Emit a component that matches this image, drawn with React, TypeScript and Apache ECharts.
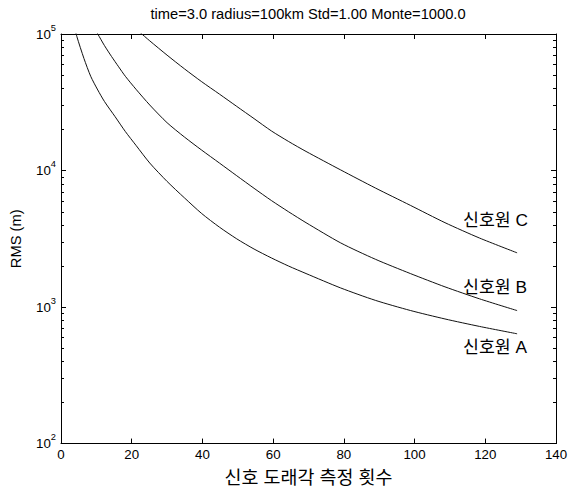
import React, { useEffect, useRef } from "react";
import * as echarts from "echarts";

const titleText = "time=3.0 radius=100km Std=1.00 Monte=1000.0";
const xAxisName = "신호 도래각 측정 횟수";
const yAxisName = "RMS (m)";
const seriesNames = ["신호원 A", "신호원 B", "신호원 C"];

const xA = [3.5, 4.5, 6.5, 8.4, 10.4, 12.3, 15.3, 18.2, 21.2, 25.1, 30, 34.9, 39.8, 44.8, 49.7, 54.6, 59.5, 64.4, 69.3, 79.1, 88.9, 98.8, 108.6, 118.4, 129];
const yA = [120000, 95500, 66100, 49000, 38900, 32000, 24800, 19300, 15300, 11350, 8320, 6310, 4840, 3850, 3160, 2660, 2290, 1995, 1760, 1380, 1120, 944, 818, 721, 637];

const xB = [9.4, 10.4, 12.3, 14.3, 16.3, 18.2, 21.2, 25.1, 30, 34.9, 39.8, 44.8, 49.7, 54.6, 59.5, 64.4, 69.3, 79.1, 88.9, 98.8, 108.6, 118.4, 129];
const yB = [110900, 100000, 82200, 68400, 57500, 49000, 39400, 30200, 22400, 17600, 14100, 11350, 9160, 7410, 6030, 4980, 4150, 2950, 2240, 1760, 1406, 1148, 942];

const xC = [21.2, 22.2, 25.1, 30, 34.9, 39.8, 44.8, 49.7, 54.6, 59.5, 64.4, 69.3, 79.1, 88.9, 98.8, 108.6, 118.4, 129];
const yC = [109000, 103500, 89100, 70000, 55600, 44700, 36300, 29500, 24000, 19500, 16300, 13800, 10100, 7450, 5560, 4150, 3200, 2495];

const labelX = [113.7, 113.7, 113.7];
const labelY = [513, 1396, 4305];

const xMin = 0;
const xMax = 140;
const xInterval = 20;
const yMin = 100;
const yMax = 100000;
const yMinorTicks = [
  200, 300, 400, 500, 600, 700, 800, 900,
  2000, 3000, 4000, 5000, 6000, 7000, 8000, 9000,
  20000, 30000, 40000, 50000, 60000, 70000, 80000, 90000,
];

const LATIN = "'Liberation Sans', Arial, sans-serif";
const MIXED = "'Liberation Sans', 'Noto Sans CJK KR', sans-serif";

function fitFontSize(text: string, family: string, targetWidth: number, fallback: number) {
  try {
    const ctx = document.createElement("canvas").getContext("2d");
    if (!ctx) return fallback;
    ctx.font = `100px ${family}`;
    const w = ctx.measureText(text).width;
    if (!w) return fallback;
    return (100 * targetWidth) / w;
  } catch (e) {
    return fallback;
  }
}

export default function App() {
  const ref = useRef<HTMLDivElement>(null);

  useEffect(() => {
    document.body.style.margin = "0";
    if (!ref.current) return;
    const chart = echarts.init(ref.current, null, { renderer: "svg" });

    const labelSize = fitFontSize("신호원 C", MIXED, 65, 16);
    const xNameSize = fitFontSize(xAxisName, MIXED, 168, 15.5);

    const xs = [xA, xB, xC];
    const ys = [yA, yB, yC];

    const lineSeries = seriesNames.map((name, i) => ({
      type: "line",
      name,
      data: xs[i].map((x, j) => [x, ys[i][j]]),
      showSymbol: false,
      symbol: "none",
      smooth: 0.25,
      clip: true,
      lineStyle: { color: "#111", width: 1 },
      xAxisIndex: 0,
      yAxisIndex: 0,
      z: 3,
      markPoint: {
        symbol: "circle",
        symbolSize: 0,
        silent: true,
        data: [
          {
            coord: [labelX[i], labelY[i]],
            label: {
              show: true,
              position: "right",
              distance: 0,
              formatter: name,
              fontFamily: MIXED,
              fontSize: labelSize,
              color: "#000",
            },
          },
        ],
      },
    }));

    const minorSeries = {
      type: "custom",
      silent: true,
      xAxisIndex: 0,
      yAxisIndex: 0,
      data: yMinorTicks.map((v) => [xMin, v]),
      renderItem: (params: any, api: any) => {
        const v = api.value(1);
        const pl = api.coord([xMin, v]);
        const pr = api.coord([xMax, v]);
        const y = Math.round(pl[1]) + 0.5;
        const xl = Math.round(pl[0]);
        const xr = Math.round(pr[0]);
        return {
          type: "group",
          children: [
            { type: "line", shape: { x1: xl, y1: y, x2: xl + 3, y2: y }, style: { stroke: "#000", lineWidth: 1 } },
            { type: "line", shape: { x1: xr - 3, y1: y, x2: xr, y2: y }, style: { stroke: "#000", lineWidth: 1 } },
          ],
        };
      },
      z: 5,
    };

    const supFormatter = (v: number) => `{b|10}{s|${Math.round(Math.log10(v))}}`;

    const baseAxisLine = { show: true, onZero: false, lineStyle: { color: "#000", width: 1 } };
    const baseTick = { show: true, inside: true, length: 5, lineStyle: { color: "#000", width: 1 } };

    chart.setOption({
      animation: false,
      backgroundColor: "#fff",
      grid: { left: 60, right: 16, top: 34, bottom: 44, containLabel: false },
      graphic: [
        {
          type: "text",
          x: 308,
          y: 14,
          style: {
            text: titleText,
            fontFamily: LATIN,
            fontSize: 14.7,
            fill: "#000",
            textAlign: "center",
            textVerticalAlign: "middle",
          },
        },
      ],
      xAxis: [
        {
          type: "value",
          min: xMin,
          max: xMax,
          interval: xInterval,
          position: "bottom",
          name: xAxisName,
          nameLocation: "middle",
          nameGap: 25,
          nameTextStyle: { fontFamily: MIXED, fontSize: xNameSize, color: "#000" },
          axisLine: baseAxisLine,
          axisTick: baseTick,
          axisLabel: { margin: 4, fontFamily: LATIN, fontSize: 13.3, color: "#000" },
          splitLine: { show: false },
        },
        {
          type: "value",
          min: xMin,
          max: xMax,
          interval: xInterval,
          position: "top",
          axisLine: baseAxisLine,
          axisTick: baseTick,
          axisLabel: { show: false },
          splitLine: { show: false },
        },
      ],
      yAxis: [
        {
          type: "log",
          logBase: 10,
          min: yMin,
          max: yMax,
          position: "left",
          name: yAxisName,
          nameLocation: "middle",
          nameGap: 38,
          nameTextStyle: { fontFamily: LATIN, fontSize: 14.7, color: "#000" },
          axisLine: baseAxisLine,
          axisTick: baseTick,
          axisLabel: {
            margin: 5,
            formatter: supFormatter,
            rich: {
              b: { fontFamily: LATIN, fontSize: 13.3, color: "#000" },
              s: { fontFamily: LATIN, fontSize: 9.3, color: "#000", padding: [0, 0, 13, 0] },
            },
          },
          splitLine: { show: false },
          minorTick: { show: false },
        },
        {
          type: "log",
          logBase: 10,
          min: yMin,
          max: yMax,
          position: "right",
          axisLine: baseAxisLine,
          axisTick: baseTick,
          axisLabel: { show: false },
          splitLine: { show: false },
        },
      ],
      series: [...lineSeries, minorSeries],
    });

    return () => chart.dispose();
  }, []);

  return <div ref={ref} style={{ width: 572, height: 492 }} />;
}
